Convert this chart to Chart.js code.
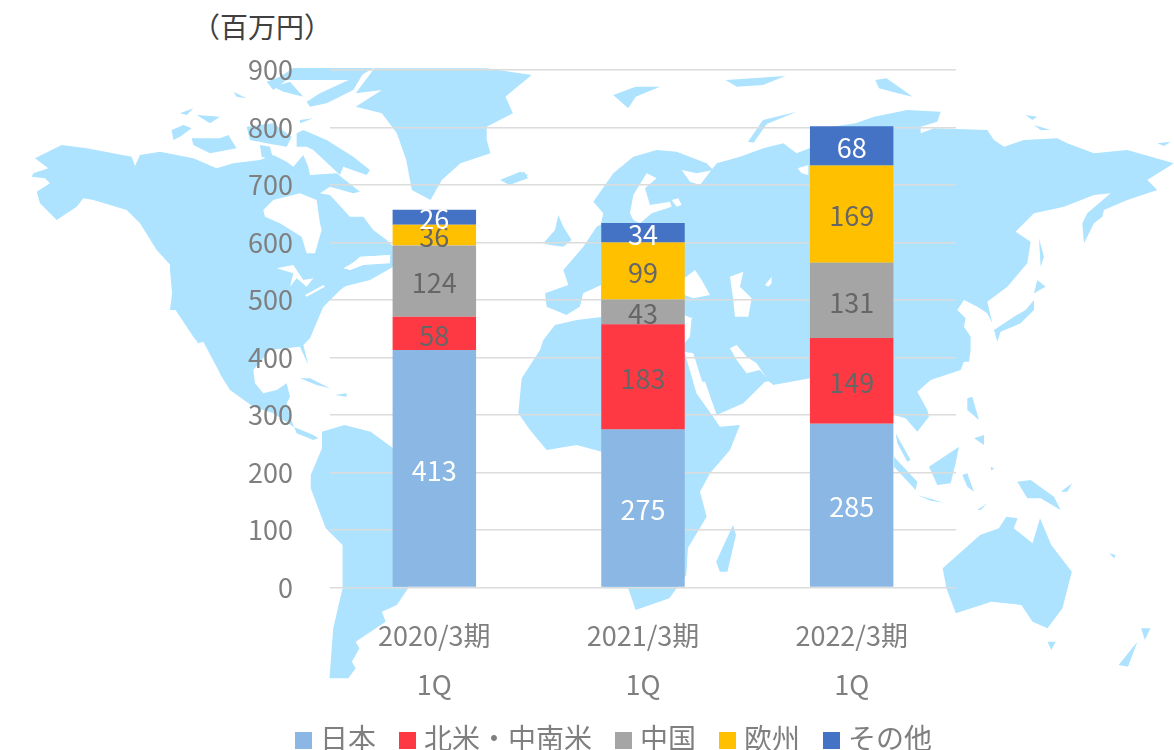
<!DOCTYPE html>
<html lang="ja">
<head>
    <meta charset="UTF-8">
    <title>地域別売上高</title>
    <script src="https://cdn.jsdelivr.net/npm/chart.js"></script>
    <style>
        html, body { margin: 0; background: #fff; overflow: hidden; width: 1174px; height: 750px; }
        #map { position: absolute; left: 0; top: 0; }
        #wrap { position: absolute; left: 0; top: 0; width: 1174px; height: 750px; }
        #unit { position: absolute; left: 192px; top: 6px; font: 28px "Noto Sans CJK JP"; color: #404040; white-space: nowrap; }
        #legend { position: absolute; left: 295px; top: 718px; display: flex; gap: 23px; font: 28px/38px "Noto Sans CJK JP"; color: #7f7f7f; white-space: nowrap; }
        #legend span { display: flex; gap: 8px; }
        #legend i { width: 17px; height: 17px; margin-top: 14px; }
    </style>
</head>
<body>
    <!-- background world map, traced by hand from crops of the picture -->
    <svg id="map" width="1174" height="750" viewBox="0 0 1174 750">
        <g fill="#ade3ff">
            <!-- north america, upper part -->
            <g transform="translate(20 60) scale(.3333)">
                <path d="M45 295L125 255 200 265 335 290 345 318 360 285 420 275 520 295 590 325 640 310 720 300 760 285 800 305 820 320 850 285 865 320 870 345 950 340 1020 395 1000 400 930 380 900 400 930 405 990 470 1030 470 1060 510 1100 540 1120 560 1120 600 1030 640 960 690 900 750 450 750 465 630 410 570 360 490 320 450 220 420 190 415 170 440 110 480 60 430 50 395 90 370 75 355 35 350 40 340 85 325Z"/>
                <path d="M830 220L850 210 920 240 1000 290 1050 330 1040 345 970 320 960 345 880 270 860 260 830 260ZM455 210L490 195 515 205 480 230 460 240ZM515 235L600 235 625 225 650 265 570 280 520 255ZM480 160L520 145 500 165ZM530 165L600 170 570 190ZM680 200L760 190 815 230 800 260 740 250 690 240ZM720 255L750 260 760 300 725 290ZM640 95L680 115 650 110ZM820 24L1060 24 1000 60 900 60 800 60 760 90 740 65 780 50ZM760 80L810 65 850 110 790 95ZM900 100L1030 40 1000 90 920 130 870 140 860 125ZM840 180L880 175 840 190Z"/>
            </g>
            <!-- greenland, iceland -->
            <g transform="scale(.3744 .3333)">
                <path d="M1000 205L1300 205 1420 225 1350 290 1370 340 1300 380 1300 420 1310 460 1230 490 1180 540 1150 600 1100 570 1085 480 1060 400 1020 340 950 320 1020 270 950 280Z"/>
                <path d="M1340 540L1400 515 1410 535 1360 555Z"/>
            </g>
            <!-- north america, lower part -->
            <g transform="translate(130 250) scale(.3333)">
                <path d="M120 -10L120 60 130 170 190 260 250 340 300 420 370 470 430 490 490 530 550 555 565 565 550 570 500 550 480 500 470 460 480 440 470 400 440 420 400 430 375 400 370 360 420 300 510 290 535 345 520 285 540 265 580 170 600 150 640 110 720 90 790 50 790 -10Z"/>
                <path d="M510 385L540 385 600 415 560 405ZM615 435L650 430 650 440Z"/>
            </g>
            <!-- south america -->
            <g transform="translate(0 375) scale(.3744 .3333)">
                <path d="M860 170L920 150 990 170 1050 220 1090 640 1060 690 1020 710 1030 740 950 800 960 820 940 860 950 880 930 910 880 910 890 760 915 640 915 510 870 460 830 340 830 300 860 220Z"/>
            </g>
            <!-- europe -->
            <g transform="translate(500 130) scale(.3333)">
                <path d="M0 150L60 125 85 135 30 165ZM130 340L165 300 175 255 190 290 215 330 190 350 150 345Z"/>
                <path d="M310 280L290 290 250 350 190 420 205 465 135 490 140 530 200 555 240 530 250 490 310 465Z"/>
                <path d="M280 215L340 130 400 80 470 60 530 65 620 100 640 120 590 130 545 120 570 155 600 165 650 100 720 80 790 55 850 40 890 70 940 50 940 755 303 755 303 280 310 250Z"/>
            </g>
            <!-- africa, arabia -->
            <g transform="translate(480 310) scale(.3333)">
                <path d="M225 45L290 30 370 20 620 150 650 250 700 320 720 350 780 345 750 420 690 490 660 545 680 620 620 720 613 760 370 760 365 425 290 405 200 420 150 360 115 310 125 205 180 120 190 90Z"/>
                <path d="M615 125L660 170 710 315 790 280 860 210 880 225 950 220 975 215 990 205 990 -5 613 -5Z"/>
            </g>
            <g transform="translate(587 375) scale(.3744 .3333)">
                <path d="M45 500L45 640 110 640 130 705 220 670 265 600 270 510 310 440 300 400 200 400Z"/>
                <path d="M345 560L390 450 398 480 375 590 355 590Z"/>
            </g>
            <!-- far east -->
            <g transform="translate(774 110) scale(.3333)">
                <path d="M110 60L245 40 300 20 400 0 500 5 490 35 440 50 440 70 480 55 640 60 660 90 690 110 750 90 850 85 880 100 960 130 1060 120 1200 160 1120 210 1150 240 1060 270 990 300 985 320 960 340 930 400 925 340 940 310 1010 250 960 255 870 290 780 310 725 365 770 395 760 460 700 530 640 575 655 640 640 610 610 590 570 570 550 600 575 625 570 650 590 680 590 720 585 755 110 755Z"/>
                <path d="M780 570L780 600 740 640 680 665 670 695 660 660 720 620 755 600ZM790 510L815 530 780 550ZM795 385L810 440 800 470ZM1150 100L1190 95 1170 108ZM755 15L790 20 775 30ZM780 45L830 60 800 60Z"/>
            </g>
            <g transform="translate(587 0) scale(.3744 .3333)">
                <path d="M430 425L470 360 560 335 480 372 445 428ZM70 285L130 260 195 260 130 290 110 325ZM370 240L530 228 470 255 400 260ZM770 240L800 235 870 290 830 280 780 265Z"/>
            </g>
            <!-- south east asia -->
            <g transform="translate(774 350) scale(.3333)">
                <path d="M100 -5L585 -5 560 60 470 90 430 125 460 180 465 200 430 245 395 205 360 195 100 100Z"/>
                <path d="M365 250L410 330 400 335 370 280ZM360 320L430 395 425 420 360 350ZM465 350L555 290 545 340 530 400 490 405ZM430 435L510 458 470 452ZM580 145L595 140 615 210 580 180ZM600 265L630 255 630 285ZM565 375L580 370 600 425 580 410ZM730 395L770 390 840 440 860 480 800 445 760 445ZM860 425L895 400 880 425ZM610 480L640 460 620 480ZM650 350L660 355 652 362Z"/>
            </g>
            <!-- australia, new zealand -->
            <g transform="translate(587 375) scale(.3744 .3333)">
                <path d="M950 580L1050 480 1100 460 1120 425 1150 430 1140 460 1190 505 1210 430 1240 510 1295 590 1270 700 1230 760 1190 740 1160 690 1080 680 985 715 960 640ZM1230 800L1252 800 1240 825ZM1480 760L1505 760 1490 795ZM1420 870L1470 800 1445 875ZM1395 535L1412 540 1408 550Z"/>
            </g>
        </g>
        <!-- seas and lakes -->
        <g fill="#fff">
            <g transform="translate(20 60) scale(.3333)">
                <path d="M730 450L760 420 840 400 890 420 900 490 905 510 885 580 860 580 845 530 780 490 735 470ZM980 625L1020 590 1115 585 1060 600 990 630Z"/>
            </g>
            <g transform="translate(130 250) scale(.3333)">
                <path d="M440 55L490 45 520 90 550 85 530 110 500 85 480 110 490 70ZM525 135L580 105 585 110 530 140ZM640 55L700 20 780 15 780 40 700 45 660 60ZM205 280L220 275 270 370 250 375Z"/>
            </g>
            <g transform="translate(500 130) scale(.3333)">
                <path d="M390 250L400 195 440 130 470 145 435 175 450 225 510 215 515 230 455 250 420 280 400 270ZM515 210L535 205 545 225 530 230ZM553 445L585 420 605 450 630 495 580 505 553 495ZM690 440L730 425 720 470 755 505 745 560 705 560 700 510ZM795 465L815 440 815 460 805 470ZM553 585L575 560 570 620 553 640ZM893 115L925 105 925 135 905 130Z"/>
                <path d="M303 465L250 490 240 530 200 555 240 565 303 555Z"/>
            </g>
            <g transform="translate(480 310) scale(.3333)">
                <path d="M613 15L635 25 615 95ZM613 125L640 130 665 210 710 315 720 350 700 320 650 250ZM750 115L770 105 800 140 830 160 860 205 840 180 800 190 770 150ZM860 210L880 225 990 205 990 240 880 240Z"/>
            </g>
        </g>
    </svg>
    <div id="unit">（百万円）</div>
    <div id="wrap"><canvas id="barChart"></canvas></div>
    <div id="legend"></div>

    <script>
        const categories = [['2020/3期', '1Q'], ['2021/3期', '1Q'], ['2022/3期', '1Q']];
        const seriesNames = ['日本', '北米・中南米', '中国', '欧州', 'その他'];
        const japan = [413, 275, 285];
        const america = [58, 183, 149];
        const china = [124, 43, 131];
        const europe = [36, 99, 169];
        const others = [26, 34, 68];
        const seriesColors = ['#8ab7e3', '#ff3943', '#a5a5a5', '#ffc000', '#4472c4'];
        const labelColors = ['#ffffff', '#666666', '#666666', '#666666', '#ffffff'];
        const yTicks = [0, 100, 200, 300, 400, 500, 600, 700, 800, 900];

        const fontName = '"Noto Sans CJK JP", "Noto Sans", sans-serif';
        const textColor = '#7f7f7f';

        // value labels in the middle of each segment
        const segmentLabels = {
            id: 'segmentLabels',
            afterDatasetsDraw(chart) {
                const ctx = chart.ctx;
                ctx.save();
                ctx.font = '27px ' + fontName;
                ctx.textAlign = 'center';
                ctx.textBaseline = 'middle';
                chart.data.datasets.forEach((ds, i) => {
                    ctx.fillStyle = labelColors[i];
                    chart.getDatasetMeta(i).data.forEach((bar, j) => {
                        ctx.fillText(ds.data[j], bar.x, (bar.y + bar.base) / 2 + 2);
                    });
                });
                ctx.restore();
            }
        };

        const allValues = [japan, america, china, europe, others];
        new Chart(document.getElementById('barChart'), {
            type: 'bar',
            data: {
                labels: categories,
                datasets: seriesNames.map((name, i) => ({
                    label: name,
                    data: allValues[i],
                    backgroundColor: seriesColors[i],
                    categoryPercentage: 0.4,
                    barPercentage: 1
                }))
            },
            options: {
                responsive: true,
                maintainAspectRatio: false,
                animation: false,
                layout: { padding: { left: 248, right: 218, top: 70, bottom: 0 } },
                scales: {
                    x: {
                        stacked: true,
                        afterFit(scale) { scale.height = 162.5; },
                        grid: { display: false },
                        border: { display: false },
                        ticks: {
                            color: textColor,
                            padding: 15.5,
                            maxRotation: 0,
                            font: { family: fontName, size: 27, lineHeight: 1.815 }
                        }
                    },
                    y: {
                        stacked: true,
                        min: 0,
                        max: 900,
                        afterFit(scale) { scale.width = 82; },
                        afterBuildTicks(scale) { scale.ticks = yTicks.map(v => ({ value: v })); },
                        grid: { color: '#dcdcdc', lineWidth: 1.5, drawTicks: false },
                        border: { display: false },
                        ticks: {
                            color: textColor,
                            padding: 37,
                            font: { family: fontName, size: 27 }
                        }
                    }
                },
                plugins: {
                    tooltip: { enabled: false },
                    legend: { display: false }
                }
            },
            plugins: [segmentLabels]
        });

        let legendHtml = '';
        seriesNames.forEach((name, i) => {
            legendHtml += `<span><i style="background:${seriesColors[i]}"></i>${name}</span>`;
        });
        document.getElementById('legend').innerHTML = legendHtml;
    </script>
</body>
</html>
